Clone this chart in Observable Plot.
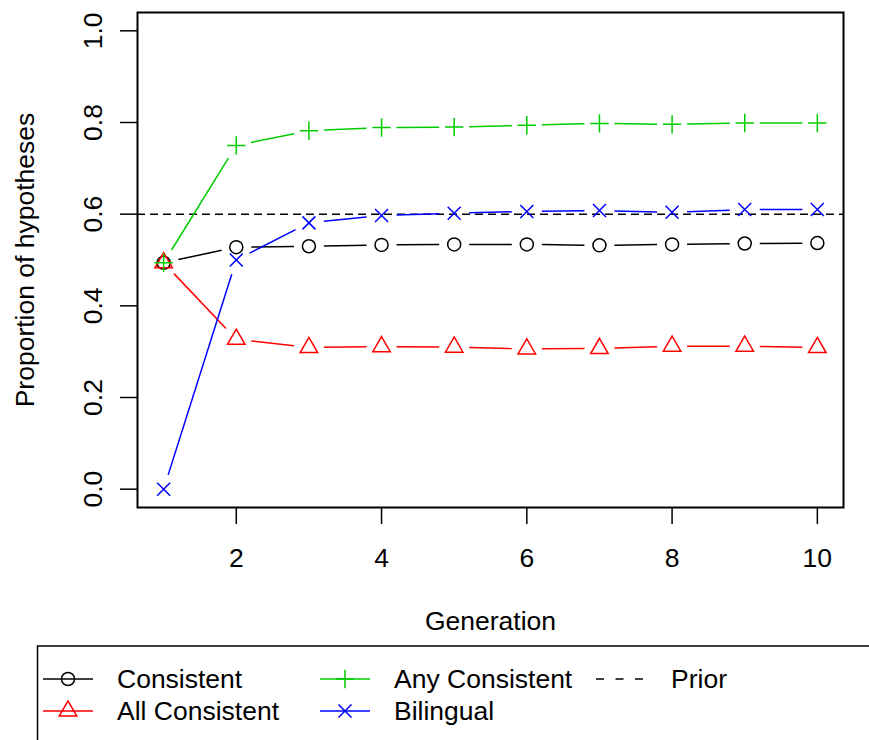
<!DOCTYPE html>
<html>
<head>
<meta charset="utf-8">
<script src="https://cdn.jsdelivr.net/npm/d3@7"></script>
<script src="https://cdn.jsdelivr.net/npm/@observablehq/plot@0.6"></script>
<style>
  html, body { margin: 0; padding: 0; background: #fff; overflow: hidden; }
  #wrap { position: relative; width: 869px; height: 740px; overflow: hidden; background: #fff; }
  #wrap svg { position: absolute; left: 0; }
</style>
</head>
<body>
<div id="wrap"></div>
<script>
// Proportion of hypotheses per generation, one array per series
const generation    = [1, 2, 3, 4, 5, 6, 7, 8, 9, 10];
const consistent    = [0.494, 0.528, 0.530, 0.533, 0.534, 0.534, 0.532, 0.534, 0.536, 0.537];
const allConsistent = [0.494, 0.327, 0.309, 0.311, 0.310, 0.306, 0.307, 0.312, 0.312, 0.309];
const anyConsistent = [0.494, 0.750, 0.782, 0.789, 0.790, 0.794, 0.798, 0.796, 0.799, 0.799];
const bilingual     = [0.000, 0.500, 0.581, 0.597, 0.602, 0.606, 0.608, 0.604, 0.610, 0.610];
const prior = 0.6;

const seriesNames = ["Consistent", "All Consistent", "Any Consistent", "Bilingual"];
const seriesColors = ["#000000", "#FF0000", "#00CD00", "#0000FF"];
const xTicks = [2, 4, 6, 8, 10];
const yTicks = [0, 0.2, 0.4, 0.6, 0.8, 1.0];
const xTitle = "Generation";
const yTitle = "Proportion of hypotheses";
const priorLabel = "Prior";

const FONT = "'Liberation Sans', Arial, Helvetica, sans-serif";
const FS = 26.5;
const R = 6.5;

// Open point symbols in the style of R's pch 1-4; size = π r²
const radiusOf = size => Math.sqrt(size / Math.PI);
const pchCircle = { draw(ctx, size) { const r = radiusOf(size); ctx.moveTo(r, 0); ctx.arc(0, 0, r, 0, 2 * Math.PI); } };
const pchTriangle = { draw(ctx, size) {
  const r = radiusOf(size), t = 1.5551 * r, xc = 1.3468 * r, yc = 0.7776 * r;
  ctx.moveTo(0, -t); ctx.lineTo(xc, yc); ctx.lineTo(-xc, yc); ctx.closePath();
} };
const pchPlus = { draw(ctx, size) {
  const h = Math.SQRT2 * radiusOf(size);
  ctx.moveTo(-h, 0); ctx.lineTo(h, 0); ctx.moveTo(0, -h); ctx.lineTo(0, h);
} };
const pchTimes = { draw(ctx, size) {
  const h = radiusOf(size);
  ctx.moveTo(-h, -h); ctx.lineTo(h, h); ctx.moveTo(h, -h); ctx.lineTo(-h, h);
} };

const series = [
  { name: seriesNames[0], values: consistent,    color: seriesColors[0], symbol: pchCircle },
  { name: seriesNames[1], values: allConsistent, color: seriesColors[1], symbol: pchTriangle },
  { name: seriesNames[2], values: anyConsistent, color: seriesColors[2], symbol: pchPlus },
  { name: seriesNames[3], values: bilingual,     color: seriesColors[3], symbol: pchTimes }
];

const points = series.flatMap(s => generation.map((g, i) => ({ series: s.name, gen: g, value: s.values[i] })));
const segments = series.flatMap(s => generation.slice(1).map((g, i) => ({
  series: s.name, x1: generation[i], y1: s.values[i], x2: g, y2: s.values[i + 1]
})));

const chart = Plot.plot({
  width: 869,
  height: 645,
  marginLeft: 137,
  marginRight: 26,
  marginTop: 12,
  marginBottom: 138,
  style: { fontFamily: FONT, fontSize: FS + "px", background: "#fff", color: "#000" },
  x: { domain: [0.64, 10.36], label: null },
  y: { domain: [-0.04, 1.04], label: null },
  marks: [
    Plot.ruleY([prior], { stroke: "#000", strokeWidth: 1.5, strokeDasharray: "8,5" }),
    ...series.map(s => Plot.arrow(segments.filter(d => d.series === s.name), {
      x1: "x1", y1: "y1", x2: "x2", y2: "y2",
      stroke: s.color, strokeWidth: 1.5, headLength: 0,
      insetStart: 15, insetEnd: 15, strokeLinecap: "butt"
    })),
    ...series.map(s => Plot.dot(points.filter(d => d.series === s.name), {
      x: "gen", y: "value", symbol: s.symbol, r: R,
      stroke: s.color, fill: "none", strokeWidth: 1.5
    })),
    Plot.frame({ stroke: "#000", strokeWidth: 2 }),
    Plot.axisX({ ticks: xTicks, tickSize: 17, tickPadding: 24, tickFormat: d => String(d),
      fontSize: FS, strokeWidth: 1.5, label: null }),
    Plot.axisY({ ticks: yTicks, tickSize: 17, tickFormat: () => "", strokeWidth: 1.5, label: null }),
    Plot.text(yTicks, { y: d => d, text: d => d3.format(".1f")(d), frameAnchor: "left",
      dx: -44, rotate: -90, fontSize: FS, lineAnchor: "middle", textAnchor: "middle" }),
    Plot.text([yTitle], { text: d => d, frameAnchor: "left", dx: -112, rotate: -90,
      fontSize: FS, lineAnchor: "middle", textAnchor: "middle" }),
    Plot.text([xTitle], { text: d => d, frameAnchor: "bottom", dy: 114,
      fontSize: FS, lineAnchor: "middle", textAnchor: "middle" })
  ]
});
chart.style.top = "0px";
document.getElementById("wrap").appendChild(chart);

// Legend box below the plot
const legendItems = [
  { label: seriesNames[0], color: seriesColors[0], symbol: pchCircle, col: 0, row: 0 },
  { label: seriesNames[1], color: seriesColors[1], symbol: pchTriangle, col: 0, row: 1 },
  { label: seriesNames[2], color: seriesColors[2], symbol: pchPlus, col: 1, row: 0 },
  { label: seriesNames[3], color: seriesColors[3], symbol: pchTimes, col: 1, row: 1 },
  { label: priorLabel, color: "#000", symbol: null, dashed: true, col: 2, row: 0 }
];
const colLineX = [43, 320, 596];
const colTextX = [117, 394, 671];
const rowY = [679, 711];
const top0 = 640;

const leg = d3.create("svg")
  .attr("width", 869).attr("height", 740 - top0)
  .style("top", top0 + "px")
  .attr("font-family", FONT).attr("font-size", FS);
leg.append("rect")
  .attr("x", 37.5).attr("y", 646 - top0).attr("width", 900).attr("height", 200)
  .attr("fill", "none").attr("stroke", "#000").attr("stroke-width", 1.5);
for (const it of legendItems) {
  const y = rowY[it.row] - top0;
  const x0 = colLineX[it.col];
  const g = leg.append("g");
  g.append("line")
    .attr("x1", x0).attr("x2", x0 + (it.dashed ? 47 : 50))
    .attr("y1", y).attr("y2", y)
    .attr("stroke", it.color).attr("stroke-width", 1.5)
    .attr("stroke-dasharray", it.dashed ? "8,11.5" : null);
  if (it.symbol) {
    g.append("path")
      .attr("transform", `translate(${x0 + 25},${y})`)
      .attr("d", d3.symbol(it.symbol, Math.PI * R * R)())
      .attr("fill", "none").attr("stroke", it.color).attr("stroke-width", 1.5);
  }
  g.append("text")
    .attr("x", colTextX[it.col]).attr("y", y + 8.5)
    .attr("fill", "#000")
    .text(it.label);
}
document.getElementById("wrap").appendChild(leg.node());
</script>
</body>
</html>
